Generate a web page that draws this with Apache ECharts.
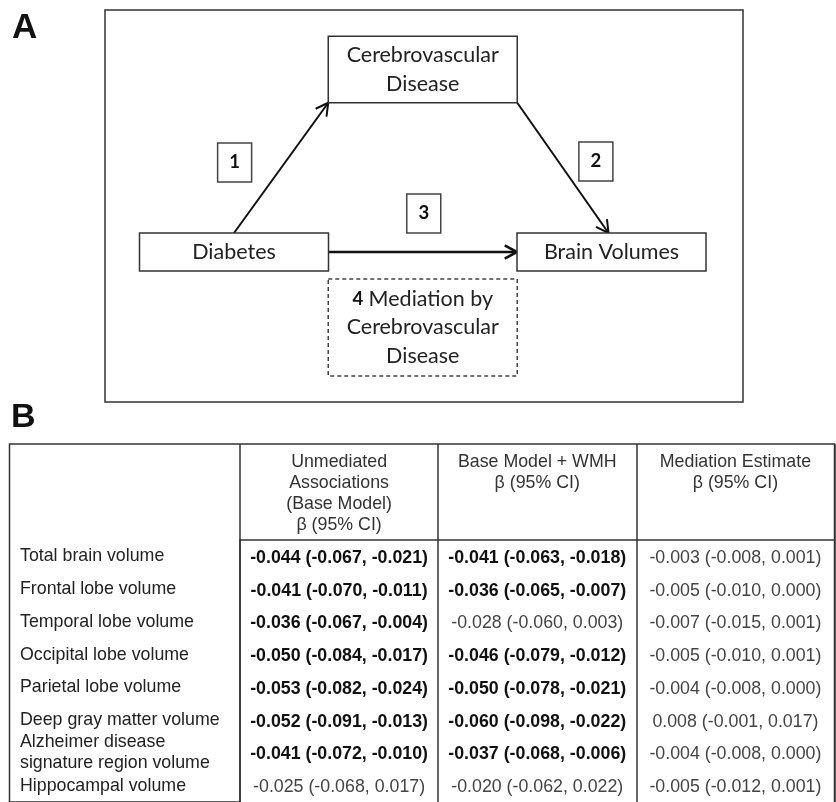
<!DOCTYPE html>
<html><head><meta charset="utf-8">
<script src="https://cdn.jsdelivr.net/npm/echarts@6/dist/echarts.min.js"></script>
<style>html,body{margin:0;padding:0;background:#fff;} #c{width:836px;height:802px;}</style>
</head><body><div id="c"></div>
<script>
// ---------- Panel A: mediation diagram ----------
const nodeNames = ['Diabetes', 'Cerebrovascular\nDisease', 'Brain Volumes'];
const nodeCol = [0, 1, 2];
const nodeLevel = [0, 1, 0];
const edgeFrom = [0, 1, 0];
const edgeTo = [1, 2, 2];
const edgeLabels = ['1', '2', '3'];
const mediationEdge = 2;
const mediationNumber = '4';
const mediationText = 'Mediation by\nCerebrovascular\nDisease';

// ---------- Panel B: table ----------
const rowNames = ['Total brain volume', 'Frontal lobe volume', 'Temporal lobe volume', 'Occipital lobe volume',
  'Parietal lobe volume', 'Deep gray matter volume', 'Alzheimer disease\nsignature region volume', 'Hippocampal volume'];
const colHeaders = ['Unmediated\nAssociations\n(Base Model)\nβ (95% CI)', 'Base Model + WMH\nβ (95% CI)', 'Mediation Estimate\nβ (95% CI)'];
const unmediatedBeta = [-0.044, -0.041, -0.036, -0.050, -0.053, -0.052, -0.041, -0.025];
const unmediatedLow  = [-0.067, -0.070, -0.067, -0.084, -0.082, -0.091, -0.072, -0.068];
const unmediatedHigh = [-0.021, -0.011, -0.004, -0.017, -0.024, -0.013, -0.010, 0.017];
const wmhBeta = [-0.041, -0.036, -0.028, -0.046, -0.050, -0.060, -0.037, -0.020];
const wmhLow  = [-0.063, -0.065, -0.060, -0.079, -0.078, -0.098, -0.068, -0.062];
const wmhHigh = [-0.018, -0.007, 0.003, -0.012, -0.021, -0.022, -0.006, 0.022];
const medBeta = [-0.003, -0.005, -0.007, -0.005, -0.004, 0.008, -0.004, -0.005];
const medLow  = [-0.008, -0.010, -0.015, -0.010, -0.008, -0.001, -0.008, -0.012];
const medHigh = [0.001, 0.000, 0.001, 0.001, 0.000, 0.017, 0.000, 0.001];

// ---------- build ----------
const DIA_FONT = 'Lato';
const TAB_FONT = 'Liberation Sans';
const DIA_SIZE = 21.5, TAB_SIZE = 17.8;
const BOX_W = 189, LINE_H = 28.5, BOX_PAD = 9.5;
function boxH(i) { return BOX_PAD + LINE_H * nodeNames[i].split('\n').length; }
const fmt = v => v.toFixed(3);
const cols = [[unmediatedBeta, unmediatedLow, unmediatedHigh], [wmhBeta, wmhLow, wmhHigh], [medBeta, medLow, medHigh]];

const nodeData = nodeNames.map((n, i) => [nodeCol[i], nodeLevel[i], i]);
const edgeData = edgeFrom.map((f, k) => [nodeCol[f], nodeLevel[f], nodeCol[edgeTo[k]], nodeLevel[edgeTo[k]], k]);
const medData = [[(nodeCol[edgeFrom[mediationEdge]] + nodeCol[edgeTo[mediationEdge]]) / 2,
  (nodeLevel[edgeFrom[mediationEdge]] + nodeLevel[edgeTo[mediationEdge]]) / 2]];
const cellData = [];
rowNames.forEach((r, ri) => cols.forEach((c, ci) => cellData.push([ci, ri])));

const chart = echarts.init(document.getElementById('c'), null, { renderer: 'canvas' });
const hiddenAxis = g => ({ gridIndex: g, show: false, type: 'value', min: 0, max: 1 });

function renderNode(params, api) {
  const i = api.value(2);
  const p = api.coord([api.value(0), api.value(1)]);
  const h = boxH(i);
  return { type: 'group', children: [
    { type: 'rect', shape: { x: p[0] - BOX_W / 2, y: p[1] - h / 2, width: BOX_W, height: h },
      style: { fill: '#fff', stroke: '#333', lineWidth: 1.5 } },
    { type: 'text', x: p[0], y: p[1], style: { text: nodeNames[i], fill: '#222', fontSize: DIA_SIZE, fontFamily: DIA_FONT,
      align: 'center', verticalAlign: 'middle', lineHeight: LINE_H } }
  ] };
}

function renderEdge(params, api) {
  const k = api.value(4);
  const a = api.coord([api.value(0), api.value(1)]);
  const b = api.coord([api.value(2), api.value(3)]);
  const ha = boxH(edgeFrom[k]), hb = boxH(edgeTo[k]);
  const sx = Math.sign(b[0] - a[0]);
  let s, e, lp;
  if (Math.abs(a[1] - b[1]) < 1) {
    s = [a[0] + sx * BOX_W / 2, a[1]]; e = [b[0] - sx * BOX_W / 2, b[1]];
    lp = [(s[0] + e[0]) / 2 + 1, s[1] - 38.5];
  } else if (b[1] < a[1]) {
    s = [a[0], a[1] - ha / 2]; e = [b[0] - sx * BOX_W / 2, b[1] + hb / 2];
    lp = [(s[0] + e[0]) / 2 - sx * 46.5, (s[1] + e[1]) / 2 - 5.5];
  } else {
    s = [a[0] + sx * BOX_W / 2, a[1] + ha / 2]; e = [b[0] - 3 * sx, b[1] - hb / 2];
    lp = [(s[0] + e[0]) / 2 + sx * 33, (s[1] + e[1]) / 2 - 6.5];
  }
  const th = Math.atan2(e[1] - s[1], e[0] - s[0]);
  const L = 14, phi = 0.5;
  const arm = d => [e[0] - L * Math.cos(th + d), e[1] - L * Math.sin(th + d)];
  const lw = Math.abs(a[1] - b[1]) < 1 ? 2.6 : 2;
  return { type: 'group', children: [
    { type: 'line', shape: { x1: s[0], y1: s[1], x2: e[0], y2: e[1] }, style: { stroke: '#111', lineWidth: lw } },
    { type: 'polyline', shape: { points: [arm(phi), e, arm(-phi)] }, style: { stroke: '#111', lineWidth: lw, fill: null } },
    { type: 'rect', shape: { x: lp[0] - 17, y: lp[1] - 19.5, width: 34, height: 39 },
      style: { fill: '#fff', stroke: '#444', lineWidth: 1.5 } },
    { type: 'text', x: lp[0], y: lp[1], style: { text: edgeLabels[k], fill: '#111', fontSize: 18.5, fontWeight: 'bold',
      fontFamily: DIA_FONT, align: 'center', verticalAlign: 'middle' } }
  ] };
}

function renderMediation(params, api) {
  const p = api.coord([api.value(0), api.value(1)]);
  const top = p[1] + boxH(edgeFrom[mediationEdge]) / 2 + 8;
  const h = 97;
  return { type: 'group', children: [
    { type: 'rect', shape: { x: p[0] - BOX_W / 2, y: top, width: BOX_W, height: h },
      style: { fill: '#fff', stroke: '#444', lineWidth: 1.5, lineDash: [4, 3] } },
    { type: 'text', x: p[0], y: top + h / 2, style: {
      text: '{b|' + mediationNumber + '} ' + mediationText, fill: '#222', fontSize: DIA_SIZE, fontFamily: DIA_FONT,
      align: 'center', verticalAlign: 'middle', lineHeight: LINE_H,
      rich: { b: { fontWeight: 'bold', fontSize: 18.5, fontFamily: DIA_FONT, fill: '#111', lineHeight: LINE_H } } } }
  ] };
}

function renderCell(params, api) {
  const ci = api.value(0), ri = api.value(1);
  const p = api.coord([ci, ri]);
  const [b, lo, hi] = cols[ci];
  const sig = hi[ri] < 0 || lo[ri] > 0;
  return { type: 'text', x: p[0], y: p[1] + 1.5, style: {
    text: fmt(b[ri]) + ' (' + fmt(lo[ri]) + ', ' + fmt(hi[ri]) + ')',
    fill: sig ? '#111' : '#444', fontSize: TAB_SIZE, fontWeight: sig ? 'bold' : 'normal', fontFamily: TAB_FONT,
    align: 'center', verticalAlign: 'middle' } };
}

const lineSt = { color: '#333', width: 1.5 };
chart.setOption({
  animation: false,
  backgroundColor: '#fff',
  title: [
    { text: 'A', left: 12, top: 11, padding: 0, textStyle: { fontSize: 35, fontWeight: 'bold', fontFamily: TAB_FONT, color: '#111' } },
    { text: 'B', left: 11, top: 401, padding: 0, textStyle: { fontSize: 34, fontWeight: 'bold', fontFamily: TAB_FONT, color: '#111' } }
  ],
  grid: [
    { left: 105, top: 10, width: 638, height: 392, show: true, borderColor: '#333', borderWidth: 1.5, backgroundColor: 'transparent', outerBoundsMode: 'none' },
    { left: 234, top: 69.5, width: 377.5, height: 182.5, outerBoundsMode: 'none' },
    { left: 9.5, top: 444, right: 1.5, bottom: -10, show: true, borderColor: '#333', borderWidth: 1.5, backgroundColor: 'transparent', outerBoundsMode: 'none' },
    { left: 240, top: 540, right: 1.5, bottom: 0, outerBoundsMode: 'none' },
    { left: 9.5, top: 540, width: 230.5, bottom: 0, outerBoundsMode: 'none' }
  ],
  xAxis: [
    hiddenAxis(0),
    { gridIndex: 1, show: false, type: 'value', min: 0, max: 2 },
    hiddenAxis(2),
    { gridIndex: 3, type: 'category', data: colHeaders, position: 'top',
      axisLine: { show: true, lineStyle: lineSt },
      axisTick: { show: true, interval: 0, length: 96, inside: false, alignWithLabel: false, lineStyle: lineSt },
      axisLabel: { interval: 0, margin: 88, verticalAlign: 'top', lineHeight: 21, fontSize: TAB_SIZE, fontFamily: TAB_FONT, color: '#333' },
      splitLine: { show: true, interval: 0, lineStyle: lineSt } },
    { gridIndex: 4, type: 'category', data: [''], position: 'top',
      axisLine: { show: true, lineStyle: lineSt }, axisTick: { show: false }, axisLabel: { show: false }, splitLine: { show: false } }
  ],
  yAxis: [
    hiddenAxis(0),
    { gridIndex: 1, show: false, type: 'value', min: 0, max: 1 },
    hiddenAxis(2),
    { gridIndex: 3, type: 'category', data: rowNames, inverse: true,
      axisLine: { show: true, lineStyle: lineSt }, axisTick: { show: false },
      axisLabel: { interval: 0, margin: 220, align: 'left', fontSize: TAB_SIZE, lineHeight: 21, fontFamily: TAB_FONT, color: '#222', padding: [3, 0, 0, 0] },
      splitLine: { show: false } },
    hiddenAxis(4)
  ],
  series: [
    { type: 'custom', xAxisIndex: 1, yAxisIndex: 1, data: edgeData, renderItem: renderEdge, clip: false, silent: true, z: 3 },
    { type: 'custom', xAxisIndex: 1, yAxisIndex: 1, data: nodeData, renderItem: renderNode, clip: false, silent: true, z: 4 },
    { type: 'custom', xAxisIndex: 1, yAxisIndex: 1, data: medData, renderItem: renderMediation, clip: false, silent: true, z: 4 },
    { type: 'custom', xAxisIndex: 3, yAxisIndex: 3, data: cellData, renderItem: renderCell, clip: false, silent: true, z: 4 }
  ]
});
</script></body></html>
